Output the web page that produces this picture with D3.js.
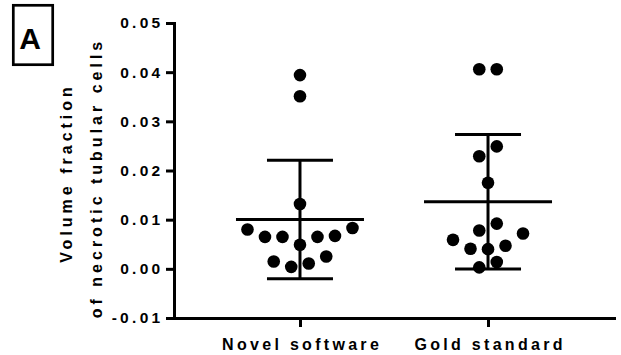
<!DOCTYPE html>
<html>
<head>
<meta charset="utf-8">
<script src="https://cdn.jsdelivr.net/npm/d3@7"></script>
<style>
  body { margin: 0; background: #fff; }
  svg { display: block; font-family: Arial, "Liberation Sans", sans-serif; font-weight: bold; }
</style>
</head>
<body>
<svg id="chart" width="621" height="355"></svg>
<script>
// groups on the x axis
const groups = ["Novel software", "Gold standard"];

// values per group, listed row by row (bottom rows last), left to right within a row
const novelRows = [
  [0.0394],
  [0.0351],
  [0.0132],
  [0.0080, 0.0065, 0.0065, 0.0049, 0.0065, 0.0067, 0.0083],
  [0.0015, 0.0004, 0.0011, 0.0025]
];
const goldRows = [
  [0.0406, 0.0406],
  [0.0229, 0.0249],
  [0.0175],
  [0.0078, 0.0092],
  [0.0059, 0.0041, 0.0040, 0.0047, 0.0072],
  [0.0003, 0.0014]
];

const yTicks = [-0.01, 0.00, 0.01, 0.02, 0.03, 0.04, 0.05];
const yLabel = ["Volume fraction", "of necrotic tubular cells"];
const panelLabel = "A";

const svg = d3.select("#chart");

const x = d3.scalePoint()
    .domain(groups)
    .range([174, 614])
    .padding(0.67);

const y = d3.scaleLinear()
    .domain([-0.01, 0.05])
    .range([318, 23]);

const dotR = 6.3;
const dotStep = 17.5;

// plain hyphen for negatives, like the original
const fmt = d => d3.format(".2f")(d).replace("\u2212", "-");

// y axis
svg.append("g")
    .attr("transform", "translate(174,0)")
    .call(d3.axisLeft(y).tickValues(yTicks).tickFormat(fmt).tickSize(8).tickSizeOuter(0))
    .call(g => g.select(".domain").attr("stroke-width", 3).attr("stroke-linecap", "square"))
    .call(g => g.selectAll(".tick line").attr("stroke-width", 3))
    .call(g => g.selectAll(".tick text")
        .attr("x", -10.5)
        .attr("font-size", 15.5)
        .attr("font-family", null)
        .attr("letter-spacing", 3.3)
        .attr("fill", "#000"));

// x axis
svg.append("g")
    .attr("transform", "translate(0,318)")
    .call(d3.axisBottom(x).tickSize(9).tickSizeOuter(0))
    .call(g => g.select(".domain").attr("stroke-width", 3).attr("stroke-linecap", "square"))
    .call(g => g.selectAll(".tick line").attr("stroke-width", 3))
    .call(g => g.selectAll(".tick text")
        .attr("y", 32)
        .attr("dy", 0)
        .attr("dx", 1.6)
        .attr("font-size", 16)
        .attr("font-family", null)
        .attr("letter-spacing", 3.3)
        .attr("fill", "#000"));

// y label, two lines
svg.append("g")
  .selectAll("text")
  .data(yLabel)
  .join("text")
    .attr("transform", (d, i) => `translate(${i === 0 ? 72 : 102},${i === 0 ? 173 : 178}) rotate(-90)`)
    .attr("text-anchor", "middle")
    .attr("font-size", 16)
    .attr("letter-spacing", 4)
    .text(d => d);

// panel label
svg.append("rect")
    .attr("x", 13.3).attr("y", 5.3)
    .attr("width", 39.4).attr("height", 59.4)
    .attr("fill", "none").attr("stroke", "#000").attr("stroke-width", 2.7);
svg.append("text")
    .attr("x", 30).attr("y", 49)
    .attr("text-anchor", "middle")
    .attr("font-size", 30)
    .text(panelLabel);

// dots + mean/SD
const series = [novelRows, goldRows];
series.forEach((rows, gi) => {
  const cx = x(groups[gi]);
  const values = rows.flat();
  const mean = d3.mean(values);
  const sd = d3.deviation(values);

  const g = svg.append("g");

  const pts = rows.flatMap(row => row.map((v, i) => ({
    v, off: (i - (row.length - 1) / 2) * dotStep
  })));

  // SD whisker
  g.append("line")
      .attr("x1", cx).attr("x2", cx)
      .attr("y1", y(mean + sd)).attr("y2", y(mean - sd))
      .attr("stroke", "#000").attr("stroke-width", 3);
  [mean + sd, mean - sd].forEach(v => {
    g.append("line")
        .attr("x1", cx - 33).attr("x2", cx + 33)
        .attr("y1", y(v)).attr("y2", y(v))
        .attr("stroke", "#000").attr("stroke-width", 3);
  });
  g.append("line")
      .attr("x1", cx - 64).attr("x2", cx + 64)
      .attr("y1", y(mean)).attr("y2", y(mean))
      .attr("stroke", "#000").attr("stroke-width", 3);

  g.selectAll("circle")
    .data(pts)
    .join("circle")
      .attr("cx", d => cx + d.off)
      .attr("cy", d => y(d.v))
      .attr("r", dotR)
      .attr("fill", "#000");
});
</script>
</body>
</html>
